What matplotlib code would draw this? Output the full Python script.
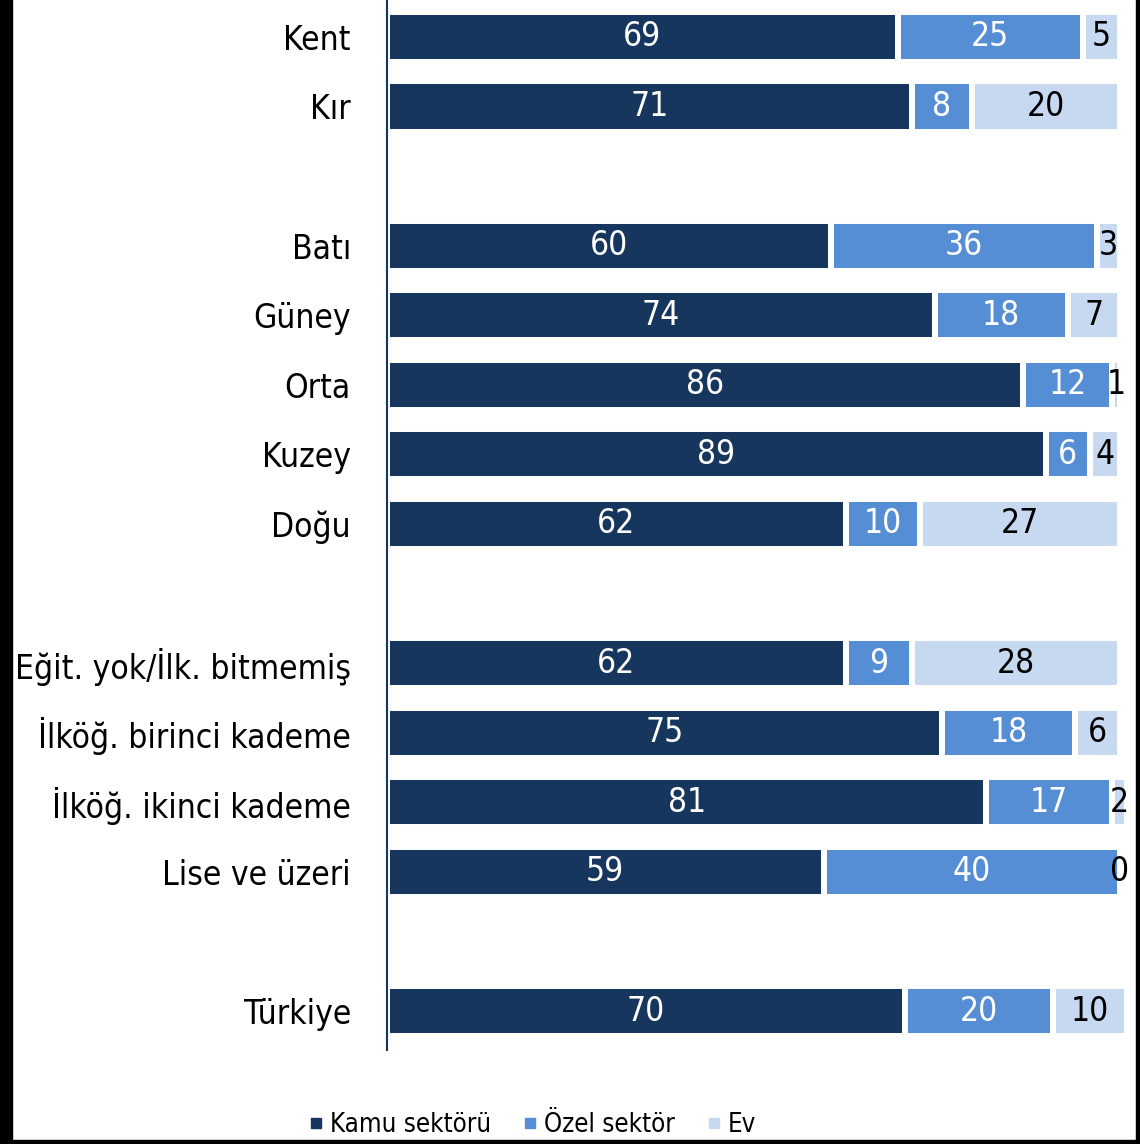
import matplotlib
matplotlib.use("Agg")
import matplotlib.pyplot as plt
from matplotlib.patches import Rectangle
from matplotlib.lines import Line2D
from matplotlib import font_manager
import numpy as np

categories = ["Kent", "Kır", "", "Batı", "Güney", "Orta", "Kuzey", "Doğu", "",
              "Eğit. yok/İlk. bitmemiş", "İlköğ. birinci kademe", "İlköğ. ikinci kademe",
              "Lise ve üzeri", "", "Türkiye"]
kamu  = [69, 71, None, 60, 74, 86, 89, 62, None, 62, 75, 81, 59, None, 70]
ozel  = [25, 8,  None, 36, 18, 12, 6, 10, None, 9, 18, 17, 40, None, 20]
ev    = [5, 20,  None, 3, 7, 1, 4, 27, None, 28, 6, 2, 0, None, 10]
series_names = ["Kamu sektörü", "Özel sektör", "Ev"]
colors = ["#17365D", "#558ED5", "#C6D9F1"]
text_colors = ["white", "white", "black"]

# pick a narrow font
fp = font_manager.FontProperties(family="DejaVu Sans", stretch="condensed")
path = font_manager.findfont(fp, fallback_to_default=True)
if "Condensed" in path:
    FAM = ["DejaVu Sans"]
    STRETCH = "condensed"
    FS = 24
    LFS = 18.5
else:
    FAM = ["Roboto", "DejaVu Sans"]
    STRETCH = "normal"
    FS = 22
    LFS = 18
plt.rcParams['font.family'] = FAM
plt.rcParams['font.stretch'] = STRETCH

W, H = 1140, 1144
fig = plt.figure(figsize=(W/100, H/100), dpi=100)
ax = fig.add_axes([387/W, (H-1050)/H, (1127-387)/W, 1050/H])

ypos = np.arange(len(categories))
idx = [i for i, k in enumerate(kamu) if k is not None]
left = np.zeros(len(idx))
for s, (vals, c, tc, name) in enumerate(zip([kamu, ozel, ev], colors, text_colors, series_names)):
    v = np.array([vals[i] for i in idx], dtype=float)
    ax.barh(ypos[idx], v, left=left, height=0.72, color=c, edgecolor="white",
            linewidth=4.3, label=name)
    for yy, l, w in zip(ypos[idx], left, v):
        ax.text(l + w/2, yy, f"{int(w)}", ha="center", va="center", color=tc,
                fontsize=FS, stretch=STRETCH, clip_on=False)
    left = left + v

ax.set_xlim(0, 100)
ax.set_ylim(14.56, -0.53)
ax.set_yticks(ypos[idx])
ax.set_yticklabels([categories[i] for i in idx], fontsize=FS, stretch=STRETCH)
ax.tick_params(axis="y", length=0, pad=26)
ax.set_xticks([])
for sp in ["top", "right", "bottom"]:
    ax.spines[sp].set_visible(False)
ax.spines["left"].set_color("#17365D")
ax.spines["left"].set_linewidth(1.5)

handles = [Line2D([], [], marker="s", linestyle="", color=c, markersize=6.5) for c in colors]
fig.legend(handles=handles, labels=series_names, loc="center", ncol=3,
           bbox_to_anchor=(0.468, (H-1125)/H), frameon=False,
           prop={"size": LFS, "stretch": STRETCH},
           handlelength=0.4, handletextpad=0.35, columnspacing=1.3)

# black frame edges
fig.patches.append(Rectangle((0, 0), 12/W, 1, transform=fig.transFigure, color="black", zorder=10))
fig.patches.append(Rectangle((1136/W, 0), 4/W, 1, transform=fig.transFigure, color="black", zorder=10))
fig.patches.append(Rectangle((0, 0), 1, 4/H, transform=fig.transFigure, color="black", zorder=10))

fig.savefig("out.png", dpi=100)
